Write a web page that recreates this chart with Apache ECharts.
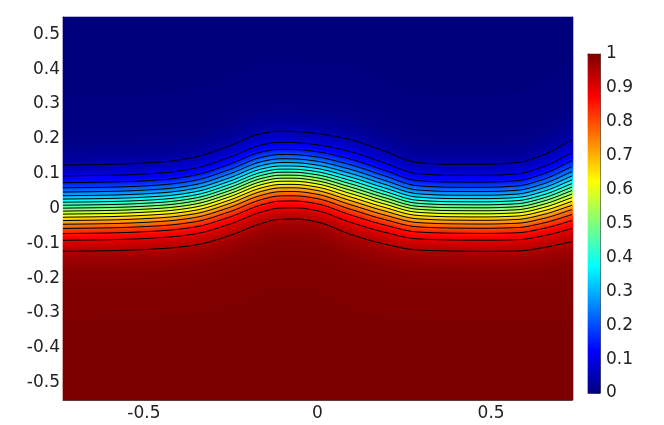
<!DOCTYPE html>
<html>
<head>
<meta charset="utf-8">
<script src="https://cdn.jsdelivr.net/npm/echarts@6/dist/echarts.min.js"></script>
<style>
  html, body { margin: 0; padding: 0; background: #fff; }
  #main { width: 664px; height: 425px; }
</style>
</head>
<body>
<div id="main"></div>
<script>
// contour positions
var xSamples = [-0.733, -0.591, -0.447, -0.352, -0.254, -0.159, -0.11, -0.064, 0, 0.094, 0.192, 0.287, 0.382, 0.48, 0.575, 0.652, 0.733];
// y of the 0.05 contour (upper edge of the front)
var topLine = [0.125, 0.127, 0.134, 0.148, 0.180, 0.216, 0.222, 0.221, 0.215, 0.198, 0.165, 0.132, 0.127, 0.127, 0.132, 0.155, 0.198];
// y of the 0.95 contour (lower edge of the front)
var bottomLine = [-0.123, -0.121, -0.115, -0.105, -0.078, -0.042, -0.031, -0.030, -0.039, -0.074, -0.102, -0.119, -0.122, -0.123, -0.122, -0.112, -0.095];
var levels = [0.05, 0.1, 0.15, 0.2, 0.25, 0.3, 0.35, 0.4, 0.45, 0.5, 0.55, 0.6, 0.65, 0.7, 0.75, 0.8, 0.85, 0.9, 0.95];
var xTicks = [-0.5, 0, 0.5];
var yTicks = [-0.5, -0.4, -0.3, -0.2, -0.1, 0, 0.1, 0.2, 0.3, 0.4, 0.5];
var barTicks = [0, 0.1, 0.2, 0.3, 0.4, 0.5, 0.6, 0.7, 0.8, 0.9, 1];
var jet = ['#00007f', '#0000ff', '#007fff', '#00ffff', '#7fff7f', '#ffff00', '#ff7f00', '#ff0000', '#7f0000'];

var xMin = -0.733, xMax = 0.733, yMin = -0.55, yMax = 0.55;
var plotW = 509, plotH = 383;
// heatmap grid is one pixel wider so every cell is exactly 2px wide
var nx = 255, ny = 383, nBar = 339;
var heatW = nx * 2;
var heatXMax = xMin + (xMax - xMin) * heatW / plotW;

// monotone cubic through the read samples
function slopes(xs, ys) {
    var n = xs.length, d = [], m = [];
    for (var i = 0; i < n - 1; i++) d.push((ys[i + 1] - ys[i]) / (xs[i + 1] - xs[i]));
    m[0] = d[0]; m[n - 1] = d[n - 2];
    for (var i = 1; i < n - 1; i++) {
        m[i] = d[i - 1] * d[i] <= 0 ? 0 : 2 / (1 / d[i - 1] + 1 / d[i]);
    }
    return m;
}
function curve(xs, ys) {
    var m = slopes(xs, ys);
    return function (x) {
        var i = 0;
        while (i < xs.length - 2 && x > xs[i + 1]) i++;
        var h = xs[i + 1] - xs[i], t = (x - xs[i]) / h;
        if (t < 0) t = 0; if (t > 1) t = 1;
        var t2 = t * t, t3 = t2 * t;
        return (2 * t3 - 3 * t2 + 1) * ys[i] + (t3 - 2 * t2 + t) * h * m[i] +
            (-2 * t3 + 3 * t2) * ys[i + 1] + (t3 - t2) * h * m[i + 1];
    };
}
var topAt = curve(xSamples, topLine);
var botAt = curve(xSamples, bottomLine);
var k = Math.atanh(0.9);

function front(x) {
    var t = topAt(x), b = botAt(x);
    return { c: (t + b) / 2, w: (t - b) / 2 / k };
}

var xCats = [], yCats = [], barCats = [], field = [], bar = [];
var dx = (heatXMax - xMin) / nx, dy = (yMax - yMin) / ny;
var colX = [];
for (var i = 0; i < nx; i++) { xCats.push(i); colX.push(xMin + (i + 0.5) * dx); }
for (var j = 0; j < ny; j++) yCats.push(j);
for (var i = 0; i < nx; i++) {
    var f = front(colX[i]);
    for (var j = 0; j < ny; j++) {
        var y = yMin + (j + 0.5) * dy;
        field.push([i, j, 0.5 * (1 - Math.tanh((y - f.c) / f.w))]);
    }
}
for (var j = 0; j < nBar; j++) { barCats.push(j); bar.push([0, j, (j + 0.5) / nBar]); }

var lineX = [xMin].concat(colX.filter(function (x) { return x < xMax; }), [xMax]);
var contourSeries = levels.map(function (lv) {
    return {
        type: 'line', xAxisIndex: 1, yAxisIndex: 1, silent: true,
        showSymbol: false, symbol: 'none', z: 5,
        lineStyle: { color: '#000', width: 1 },
        data: lineX.map(function (x) {
            var f = front(x);
            return [x, f.c + f.w * Math.atanh(1 - 2 * lv)];
        })
    };
});

var labelStyle = { fontFamily: 'DejaVu Sans', fontSize: 17, color: '#222' };
var frameLine = { show: true, onZero: false, lineStyle: { color: '#555', width: 1 } };
var tickStyle = { color: '#444', width: 1 };
function fmt(v) { return String(Math.round(v * 10) / 10); }

var chart = echarts.init(document.getElementById('main'), null, { renderer: 'canvas' });
chart.setOption({
    animation: false,
    grid: [
        { left: 63, top: 17, width: heatW, height: plotH },
        { left: 63, top: 17, width: plotW, height: plotH },
        { left: 588, top: 54, width: 12, height: 339 }
    ],
    visualMap: {
        show: false, type: 'continuous', min: 0, max: 1,
        seriesIndex: [0, 1], inRange: { color: jet }
    },
    xAxis: [
        { gridIndex: 0, type: 'category', data: xCats, show: false },
        {
            gridIndex: 1, type: 'value', min: xMin, max: xMax, position: 'bottom',
            axisLine: frameLine, splitLine: { show: false },
            axisTick: { inside: true, length: 3, customValues: xTicks, lineStyle: tickStyle },
            axisLabel: Object.assign({ customValues: xTicks, margin: 5, formatter: fmt }, labelStyle)
        },
        {
            gridIndex: 1, type: 'value', min: xMin, max: xMax, position: 'top',
            axisLine: frameLine, splitLine: { show: false }, axisLabel: { show: false },
            axisTick: { inside: true, length: 3, customValues: xTicks, lineStyle: tickStyle }
        },
        {
            gridIndex: 2, type: 'category', data: [0], position: 'bottom',
            axisLine: frameLine, axisTick: { show: false }, axisLabel: { show: false }
        },
        {
            gridIndex: 2, type: 'value', min: 0, max: 1, position: 'top',
            axisLine: frameLine, axisTick: { show: false }, axisLabel: { show: false },
            splitLine: { show: false }
        }
    ],
    yAxis: [
        { gridIndex: 0, type: 'category', data: yCats, show: false },
        {
            gridIndex: 1, type: 'value', min: yMin, max: yMax, position: 'left',
            axisLine: frameLine, splitLine: { show: false },
            axisTick: { inside: true, length: 3, customValues: yTicks, lineStyle: tickStyle },
            axisLabel: Object.assign({ customValues: yTicks, margin: 3, formatter: fmt }, labelStyle)
        },
        {
            gridIndex: 1, type: 'value', min: yMin, max: yMax, position: 'right',
            axisLine: frameLine, splitLine: { show: false }, axisLabel: { show: false },
            axisTick: { inside: true, length: 3, customValues: yTicks, lineStyle: tickStyle }
        },
        {
            gridIndex: 2, type: 'category', data: barCats, position: 'left',
            axisLine: frameLine, axisTick: { show: false }, axisLabel: { show: false }
        },
        {
            gridIndex: 2, type: 'value', min: 0, max: 1, position: 'right',
            axisLine: frameLine, splitLine: { show: false },
            axisTick: { inside: true, length: 3, customValues: barTicks, lineStyle: tickStyle },
            axisLabel: Object.assign({ customValues: barTicks, margin: 6, formatter: fmt }, labelStyle)
        }
    ],
    series: [
        {
            type: 'heatmap', xAxisIndex: 0, yAxisIndex: 0, data: field,
            progressive: 0, silent: true, emphasis: { disabled: true }, z: 1
        },
        {
            type: 'heatmap', xAxisIndex: 3, yAxisIndex: 3, data: bar,
            progressive: 0, silent: true, emphasis: { disabled: true }, z: 1
        }
    ].concat(contourSeries)
});
</script>
</body>
</html>
